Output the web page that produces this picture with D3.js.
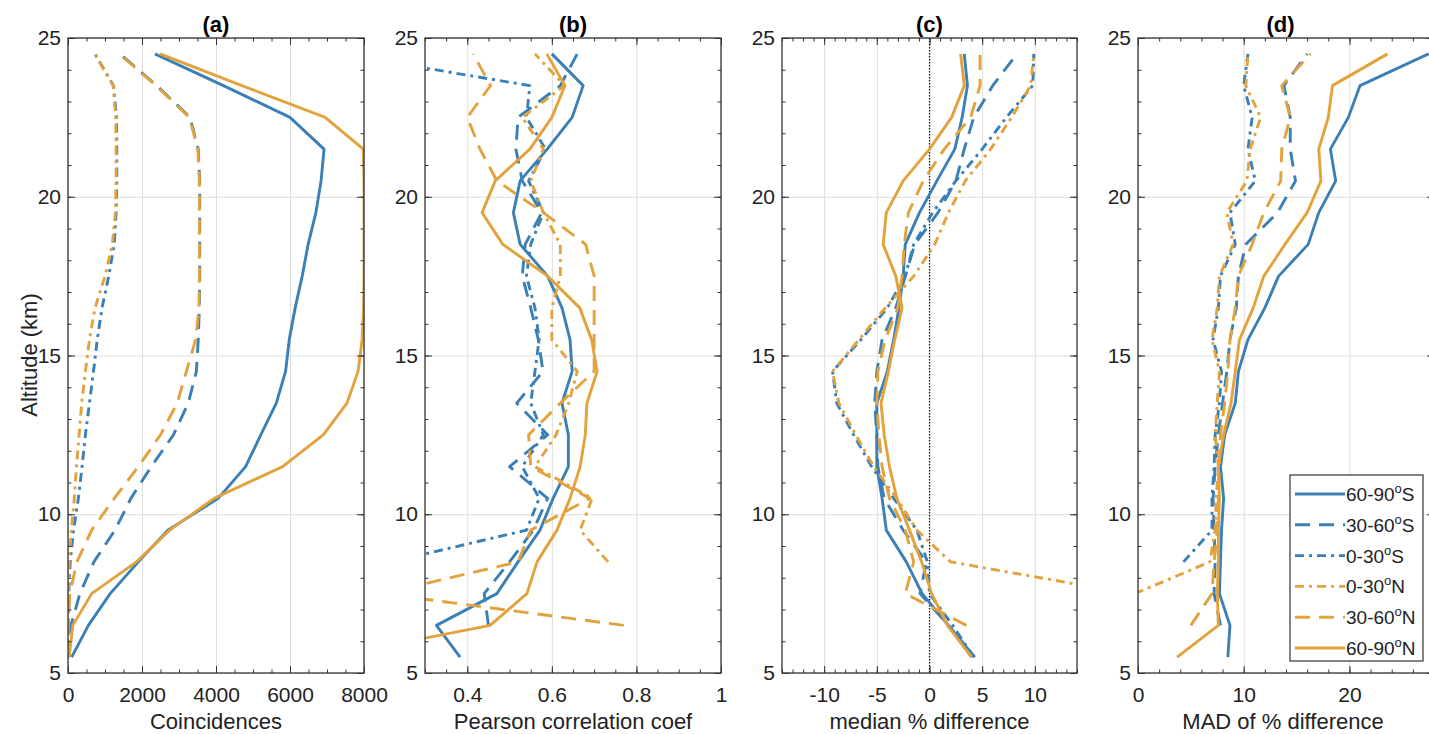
<!DOCTYPE html>
<html>
<head>
<meta charset="utf-8">
<script src="https://cdn.jsdelivr.net/npm/d3@7"></script>
<style>body{margin:0;background:#fff}</style>
</head>
<body>
<script>
// Altitude bins (km), bottom to top
const altitude = [5.5, 6.5, 7.5, 8.5, 9.5, 10.5, 11.5, 12.5, 13.5, 14.5,
                  15.5, 16.5, 17.5, 18.5, 19.5, 20.5, 21.5, 22.5, 23.5, 24.5];

const regions = ['60-90°S', '30-60°S', '0-30°S', '0-30°N', '30-60°N', '60-90°N'];
const altTicks = [5, 10, 15, 20, 25];

// (a) Coincidences
const coinc6090S = [100, 550, 1140, 1900, 2700, 4060, 4800, 5210, 5630, 5880, 5980, 6140, 6330, 6490, 6700, 6840, 6920, 6000, 4200, 2350];
const coinc3060S = [20, 80, 320, 700, 1270, 1700, 2250, 2850, 3250, 3470, 3520, 3550, 3560, 3560, 3560, 3560, 3520, 3300, 2400, 1400];
const coinc030S  = [0, 10, 20, 60, 150, 280, 380, 470, 580, 690, 790, 920, 1100, 1250, 1300, 1320, 1320, 1310, 1230, 730];
const coinc030N  = [0, 0, 10, 30, 90, 170, 230, 300, 370, 470, 580, 730, 1000, 1200, 1280, 1300, 1300, 1290, 1220, 720];
const coinc3060N = [0, 10, 50, 240, 640, 1250, 1900, 2500, 2950, 3200, 3450, 3540, 3550, 3550, 3550, 3550, 3510, 3280, 2380, 1380];
const coinc6090N = [30, 130, 640, 1850, 2750, 3950, 5800, 6900, 7540, 7840, 7950, 7990, 8000, 8000, 8000, 8000, 7980, 6950, 4700, 2490];

// (b) Pearson correlation coefficient
const corr6090S = [0.383, 0.327, 0.47, 0.52, 0.572, 0.603, 0.639, 0.639, 0.624, 0.648, 0.643, 0.624, 0.59, 0.525, 0.509, 0.525, 0.589, 0.648, 0.674, 0.60];
const corr3060S = [null, 0.45, 0.44, 0.50, 0.556, 0.59, 0.50, 0.59, 0.517, 0.579, 0.568, 0.55, 0.53, 0.537, 0.576, 0.53, 0.515, 0.52, 0.62, 0.66];
const corr030S  = [null, null, null, 0.22, 0.54, 0.57, 0.53, 0.58, 0.55, 0.56, 0.57, 0.56, 0.54, 0.55, 0.58, 0.545, 0.585, 0.54, 0.548, 0.10];
const corr030N  = [null, null, null, 0.733, 0.667, 0.695, 0.56, 0.61, 0.64, 0.66, 0.60, 0.60, 0.62, 0.62, 0.58, 0.55, 0.58, 0.53, 0.63, 0.56];
const corr3060N = [null, 0.77, 0.20, 0.52, 0.55, 0.69, 0.55, 0.545, 0.62, 0.70, 0.70, 0.70, 0.70, 0.68, 0.58, 0.47, 0.43, 0.40, 0.455, 0.414];
const corr6090N = [0.07, 0.454, 0.541, 0.565, 0.612, 0.643, 0.667, 0.679, 0.683, 0.707, 0.694, 0.666, 0.59, 0.484, 0.435, 0.466, 0.548, 0.60, 0.631, 0.588];

// (c) median % difference
const med6090S = [4.3, 1.8, -0.7, -2.2, -4.1, -4.5, -5.0, -5.0, -5.0, -4.0, -3.4, -2.9, -2.5, -2.3, -0.95, 0.7, 2.4, 3.1, 3.6, 3.3];
const med3060S = [4.0, 1.8, -0.9, -0.3, -2.5, -4.3, -4.9, -5.0, -5.2, -5.0, -4.5, -3.2, -2.3, -1.4, 0.8, 2.5, 3.3, 4.2, 6.0, 8.3];
const med030S  = [4.2, 2.2, 0.0, -0.2, -1.2, -3.4, -5.5, -7.2, -8.8, -9.2, -6.5, -4.0, -2.3, -1.5, 0.3, 2.5, 5.0, 7.3, 9.8, 9.9];
const med030N  = [null, null, 19.0, 2.0, -1.2, -3.1, -5.3, -7.0, -8.6, -9.2, -6.7, -4.2, -1.5, 0.5, 1.8, 3.4, 5.8, 7.8, 9.6, 9.9];
const med3060N = [null, 3.5, -2.3, -1.5, -2.3, -3.8, -4.5, -4.8, -5.0, -4.9, -4.2, -3.0, -2.6, -2.4, -2.0, -0.6, 1.4, 3.9, 4.8, 4.8];
const med6090N = [4.0, 1.7, 0.2, -0.75, -1.9, -3.1, -3.8, -4.3, -4.6, -3.9, -3.3, -2.6, -3.2, -4.4, -4.1, -2.5, 0.0, 2.1, 3.3, 2.95];

// (d) MAD of % difference
const mad6090S = [8.5, 8.7, 7.7, 7.8, 7.9, 8.1, 7.8, 8.2, 9.2, 9.5, 10.4, 12.0, 13.3, 16.1, 17.1, 18.7, 18.2, 19.9, 21.0, 27.5];
const mad3060S = [null, 7.8, 7.2, 7.3, 7.2, 7.1, 7.3, 7.6, 8.0, 8.4, 8.7, 9.3, 9.5, 10.2, 13.2, 14.9, 14.4, 14.4, 13.8, 16.0];
const mad030S  = [null, null, null, 4.3, 7.0, 7.0, 7.2, 7.3, 7.7, 7.9, 7.1, 7.6, 7.8, 9.2, 8.7, 11.1, 10.4, 10.8, 10.0, 10.4];
const mad030N  = [null, null, -0.3, 6.8, 7.3, 7.4, 7.6, 7.3, 7.5, 7.7, 7.0, 7.5, 7.7, 9.0, 8.4, 10.3, 10.6, 11.6, 10.2, 10.4];
const mad3060N = [null, 5.0, 7.0, 7.2, 7.5, 7.6, 7.7, 7.8, 8.2, 8.5, 8.7, 9.2, 9.5, 10.8, 11.9, 13.5, 13.6, 14.4, 13.6, 16.3];
const mad6090N = [3.7, 7.6, 7.5, 7.6, 7.6, 7.7, 7.6, 8.1, 8.8, 9.2, 9.6, 10.9, 11.9, 13.9, 16.0, 17.3, 17.1, 18.0, 18.4, 23.6];

// x tick labels per panel
const coincTicks = [0, 2000, 4000, 6000, 8000];
const corrTicks = [0.4, 0.6, 0.8, 1];
const medTicks = [-10, -5, 0, 5, 10];
const madTicks = [0, 10, 20];

const blue = '#3a7fb6', orange = '#e2a23c';
const colors = [blue, blue, blue, orange, orange, orange];
const dashes = [null, '15,9', '9,5,3,5', '9,5,3,5', '15,9', null];

const width = 1429, height = 734;
const plotTop = 38, plotBottom = 673;

const panels = [
  {title: '(a)', x0: 68, x1: 364, domain: [0, 8000], ticks: coincTicks, minor: 500,
   label: 'Coincidences', series: [coinc6090S, coinc3060S, coinc030S, coinc030N, coinc3060N, coinc6090N]},
  {title: '(b)', x0: 425, x1: 721, domain: [0.3, 1], ticks: corrTicks, minor: 0.05,
   label: 'Pearson correlation coef', series: [corr6090S, corr3060S, corr030S, corr030N, corr3060N, corr6090N]},
  {title: '(c)', x0: 782, x1: 1077, domain: [-14, 14], ticks: medTicks, minor: 1, zero: true,
   label: 'median % difference', series: [med6090S, med3060S, med030S, med030N, med3060N, med6090N]},
  {title: '(d)', x0: 1138, x1: 1434, domain: [0, 28], ticks: madTicks, minor: 2, legend: true,
   label: 'MAD of % difference', series: [mad6090S, mad3060S, mad030S, mad030N, mad3060N, mad6090N]}
];

let svg = d3.select('body')
  .append('svg')
  .attr('width', width)
  .attr('height', height)
  .style('font-family', '"Liberation Sans", Arial, sans-serif')
  .style('background', 'white');

let yScale = d3.scaleLinear().domain([5, 25]).range([plotBottom, plotTop]);
const yMinor = d3.range(5, 25.01, 1);

function styleAxis(sel) {
  sel.select('.domain').remove();
  sel.attr('font-family', null).attr('font-size', 21).attr('color', '#222');
  sel.selectAll('line').attr('stroke', '#333');
}

panels.forEach((p, i) => {
  let xScale = d3.scaleLinear().domain(p.domain).range([p.x0, p.x1]);
  const n = Math.round((p.domain[1] - p.domain[0]) / p.minor);
  const xMinor = d3.range(n + 1).map(k => +(p.domain[0] + k * p.minor).toFixed(4));
  let g = svg.append('g');

  g.append('clipPath').attr('id', 'clip' + i)
    .append('rect')
    .attr('x', p.x0).attr('y', plotTop)
    .attr('width', p.x1 - p.x0).attr('height', plotBottom - plotTop);

  // grid
  g.append('g')
    .attr('transform', `translate(0,${plotBottom})`)
    .call(d3.axisBottom(xScale).tickValues(p.ticks).tickSize(-(plotBottom - plotTop)).tickFormat(''))
    .call(s => s.select('.domain').remove())
    .selectAll('line').attr('stroke', '#dedede');
  g.append('g')
    .attr('transform', `translate(${p.x0},0)`)
    .call(d3.axisLeft(yScale).tickValues(altTicks).tickSize(-(p.x1 - p.x0)).tickFormat(''))
    .call(s => s.select('.domain').remove())
    .selectAll('line').attr('stroke', '#dedede');

  if (p.zero) {
    g.append('line')
      .attr('x1', xScale(0)).attr('x2', xScale(0))
      .attr('y1', plotTop).attr('y2', plotBottom)
      .attr('stroke', '#111').attr('stroke-width', 1.2)
      .attr('stroke-dasharray', '1.5,1.5');
  }

  // profiles
  let line = d3.line()
    .defined(d => d[0] !== null)
    .x(d => xScale(d[0]))
    .y(d => yScale(d[1]));

  p.series.forEach((vals, k) => {
    g.append('path')
      .datum(altitude.map((h, j) => [vals[j], h]))
      .attr('clip-path', `url(#clip${i})`)
      .attr('d', line)
      .attr('fill', 'none')
      .attr('stroke', colors[k])
      .attr('stroke-width', 2.9)
      .attr('stroke-linejoin', 'round')
      .attr('stroke-dasharray', dashes[k]);
  });

  // axes, ticks inside like matlab
  g.append('g').attr('transform', `translate(0,${plotBottom})`)
    .call(d3.axisBottom(xScale).tickValues(xMinor).tickSizeInner(-3.5).tickSizeOuter(0).tickFormat(''))
    .call(styleAxis);
  g.append('g').attr('transform', `translate(0,${plotTop})`)
    .call(d3.axisTop(xScale).tickValues(xMinor).tickSizeInner(-3.5).tickSizeOuter(0).tickFormat(''))
    .call(styleAxis);
  g.append('g').attr('transform', `translate(0,${plotBottom})`)
    .call(d3.axisBottom(xScale).tickValues(p.ticks).tickSizeInner(-7).tickSizeOuter(0).tickPadding(14).tickFormat(d => String(d)))
    .call(styleAxis);
  g.append('g').attr('transform', `translate(0,${plotTop})`)
    .call(d3.axisTop(xScale).tickValues(p.ticks).tickSizeInner(-7).tickSizeOuter(0).tickFormat(''))
    .call(styleAxis);

  g.append('g').attr('transform', `translate(${p.x0},0)`)
    .call(d3.axisLeft(yScale).tickValues(yMinor).tickSizeInner(-3.5).tickSizeOuter(0).tickFormat(''))
    .call(styleAxis);
  g.append('g').attr('transform', `translate(${p.x1},0)`)
    .call(d3.axisRight(yScale).tickValues(yMinor).tickSizeInner(-3.5).tickSizeOuter(0).tickFormat(''))
    .call(styleAxis);
  g.append('g').attr('transform', `translate(${p.x0},0)`)
    .call(d3.axisLeft(yScale).tickValues(altTicks).tickSizeInner(-7).tickSizeOuter(0).tickPadding(7))
    .call(styleAxis);
  g.append('g').attr('transform', `translate(${p.x1},0)`)
    .call(d3.axisRight(yScale).tickValues(altTicks).tickSizeInner(-7).tickSizeOuter(0).tickFormat(''))
    .call(styleAxis);

  // box
  g.append('rect')
    .attr('x', p.x0).attr('y', plotTop)
    .attr('width', p.x1 - p.x0).attr('height', plotBottom - plotTop)
    .attr('fill', 'none').attr('stroke', '#333').attr('stroke-width', 1.3);

  // title and label
  g.append('text')
    .attr('x', (p.x0 + Math.min(p.x1, width)) / 2 + (p.legend ? -3 : 0))
    .attr('y', 32)
    .attr('text-anchor', 'middle')
    .style('font-size', '22px').style('font-weight', 'bold')
    .text(p.title);

  g.append('text')
    .attr('x', (p.x0 + p.x1) / 2 - (p.legend ? 3 : 0))
    .attr('y', 729)
    .attr('text-anchor', 'middle')
    .style('font-size', '22px').style('fill', '#222')
    .text(p.label);

  if (p.legend) {
    let lg = g.append('g');
    lg.append('rect')
      .attr('x', 1290).attr('y', 475).attr('width', 133).attr('height', 186)
      .attr('fill', 'white').attr('stroke', '#333').attr('stroke-width', 1.2);
    regions.forEach((r, k) => {
      const yy = 494 + k * 30.8;
      lg.append('line')
        .attr('x1', 1295).attr('x2', 1345).attr('y1', yy).attr('y2', yy)
        .attr('stroke', colors[k]).attr('stroke-width', 2.9)
        .attr('stroke-dasharray', dashes[k]);
      const parts = r.split('°');
      let t = lg.append('text')
        .attr('x', 1346).attr('y', yy + 7)
        .style('font-size', '19px').style('fill', '#222');
      t.append('tspan').text(parts[0]);
      t.append('tspan').attr('dy', -8).style('font-size', '13px').text('o');
      t.append('tspan').attr('dy', 8).text(parts[1]);
    });
  }
});

// shared y label
svg.append('text')
  .attr('transform', 'translate(37,355) rotate(-90)')
  .attr('text-anchor', 'middle')
  .style('font-size', '22px').style('fill', '#222')
  .text('Altitude (km)');
</script>
</body>
</html>
